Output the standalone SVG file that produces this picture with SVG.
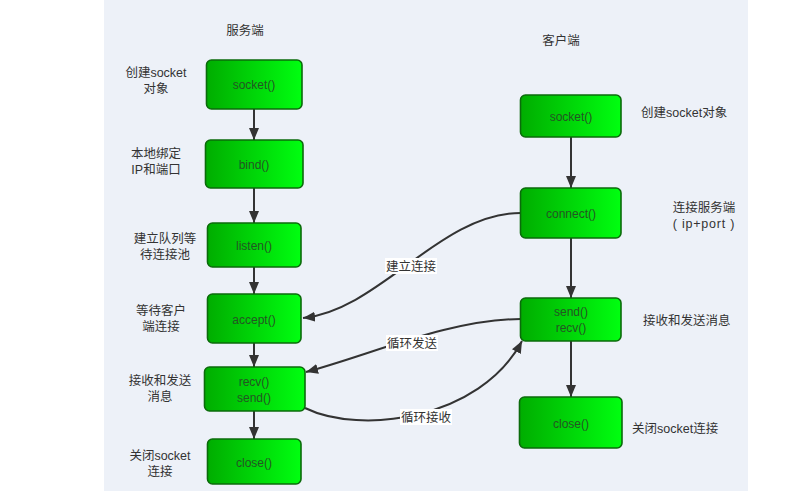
<svg xmlns="http://www.w3.org/2000/svg" width="803" height="503" viewBox="0 0 803 503">
<style>
.t{font-family:"Liberation Sans","Noto Sans CJK SC",sans-serif;font-size:12.5px;fill:#333}
.bt{font-family:"Liberation Sans","Noto Sans CJK SC",sans-serif;font-size:12px;fill:#235623;text-anchor:middle}
.box{fill:url(#g);stroke:#0b6b0b;stroke-width:1.6}
.c{fill:none;stroke:#333;stroke-width:2}
.lbg{fill:#fff}
</style>
<defs>
<linearGradient id="g" x1="0" y1="0" x2="1" y2="0">
<stop offset="0" stop-color="#00ad00"/>
<stop offset="1" stop-color="#00ff10"/>
</linearGradient>
<marker id="a" markerUnits="userSpaceOnUse" markerWidth="13" markerHeight="11" refX="12" refY="5" orient="auto">
<path d="M0,0 L12,5 L0,10 z" fill="#333"/>
</marker>
</defs>
<rect x="0" y="0" width="803" height="503" fill="#fff"/>
<rect x="104" y="0" width="644" height="491" fill="#edf1f8"/>

<text class="t" x="245" y="35" text-anchor="middle">服务端</text>
<text class="t" x="561" y="45" text-anchor="middle">客户端</text>

<g id="connectors">
<line class="c" x1="254" y1="109" x2="254" y2="140" marker-end="url(#a)"/>
<line class="c" x1="254" y1="188" x2="254" y2="223" marker-end="url(#a)"/>
<line class="c" x1="254" y1="267" x2="254" y2="294" marker-end="url(#a)"/>
<line class="c" x1="254" y1="343" x2="254" y2="367" marker-end="url(#a)"/>
<line class="c" x1="254" y1="411" x2="254" y2="439" marker-end="url(#a)"/>
<line class="c" x1="571" y1="137" x2="571" y2="188" marker-end="url(#a)"/>
<line class="c" x1="571" y1="238" x2="571" y2="298" marker-end="url(#a)"/>
<line class="c" x1="571" y1="341" x2="571" y2="397" marker-end="url(#a)"/>
<path class="c" d="M521,213 C440,213 380,310 303,318" marker-end="url(#a)"/>
<path class="c" d="M521,319 C450,319 370,355 306,372" marker-end="url(#a)"/>
<path class="c" d="M305,408 C360,435 480,420 522,341" marker-end="url(#a)"/>
<rect class="lbg" x="385" y="258" width="52" height="16"/>
<text class="t" x="411" y="270.5" text-anchor="middle">建立连接</text>
<rect class="lbg" x="386" y="335" width="52" height="16"/>
<text class="t" x="412" y="347.5" text-anchor="middle">循环发送</text>
<rect class="lbg" x="400" y="409" width="52" height="16"/>
<text class="t" x="426" y="421.5" text-anchor="middle">循环接收</text>
</g>

<g id="s-socket">
<rect class="box" x="206.5" y="60" width="95.5" height="49" rx="5"/>
<text class="bt" x="254" y="89">socket()</text>
</g>
<g id="s-bind">
<rect class="box" x="205.5" y="140" width="97.5" height="48" rx="5"/>
<text class="bt" x="254" y="169">bind()</text>
</g>
<g id="s-listen">
<rect class="box" x="207.5" y="223" width="93.5" height="44" rx="5"/>
<text class="bt" x="254" y="250">listen()</text>
</g>
<g id="s-accept">
<rect class="box" x="207.5" y="294" width="93.5" height="49" rx="5"/>
<text class="bt" x="254" y="324">accept()</text>
</g>
<g id="s-recv">
<rect class="box" x="204.5" y="367" width="100.5" height="44" rx="5"/>
<text class="bt" x="254" y="386">recv()</text>
<text class="bt" x="254" y="402">send()</text>
</g>
<g id="s-close">
<rect class="box" x="207.5" y="439" width="93.5" height="45" rx="5"/>
<text class="bt" x="254" y="467">close()</text>
</g>

<g id="c-socket">
<rect class="box" x="520.5" y="95" width="100.5" height="42" rx="5"/>
<text class="bt" x="571" y="121">socket()</text>
</g>
<g id="c-connect">
<rect class="box" x="520.5" y="188" width="100.5" height="50" rx="5"/>
<text class="bt" x="571" y="218">connect()</text>
</g>
<g id="c-send">
<rect class="box" x="520.5" y="298" width="100.5" height="43" rx="5"/>
<text class="bt" x="571" y="316">send()</text>
<text class="bt" x="571" y="332">recv()</text>
</g>
<g id="c-close">
<rect class="box" x="519.5" y="397" width="102.5" height="51" rx="5"/>
<text class="bt" x="571" y="428">close()</text>
</g>

<g id="labels">
<text class="t" x="156" y="77" text-anchor="middle">创建socket</text>
<text class="t" x="156" y="93" text-anchor="middle">对象</text>
<text class="t" x="156" y="158" text-anchor="middle">本地绑定</text>
<text class="t" x="156" y="174" text-anchor="middle">IP和端口</text>
<text class="t" x="165" y="243" text-anchor="middle">建立队列等</text>
<text class="t" x="165" y="259" text-anchor="middle">待连接池</text>
<text class="t" x="161" y="315" text-anchor="middle">等待客户</text>
<text class="t" x="161" y="331" text-anchor="middle">端连接</text>
<text class="t" x="160" y="385" text-anchor="middle">接收和发送</text>
<text class="t" x="160" y="401" text-anchor="middle">消息</text>
<text class="t" x="160" y="460" text-anchor="middle">关闭socket</text>
<text class="t" x="160" y="476" text-anchor="middle">连接</text>
<text class="t" x="641" y="117">创建socket对象</text>
<text class="t" x="704" y="212" text-anchor="middle">连接服务端</text>
<text class="t" x="704" y="228" text-anchor="middle" letter-spacing="0.8">( ip+port )</text>
<text class="t" x="643" y="325">接收和发送消息</text>
<text class="t" x="632" y="433">关闭socket连接</text>
</g>
</svg>
